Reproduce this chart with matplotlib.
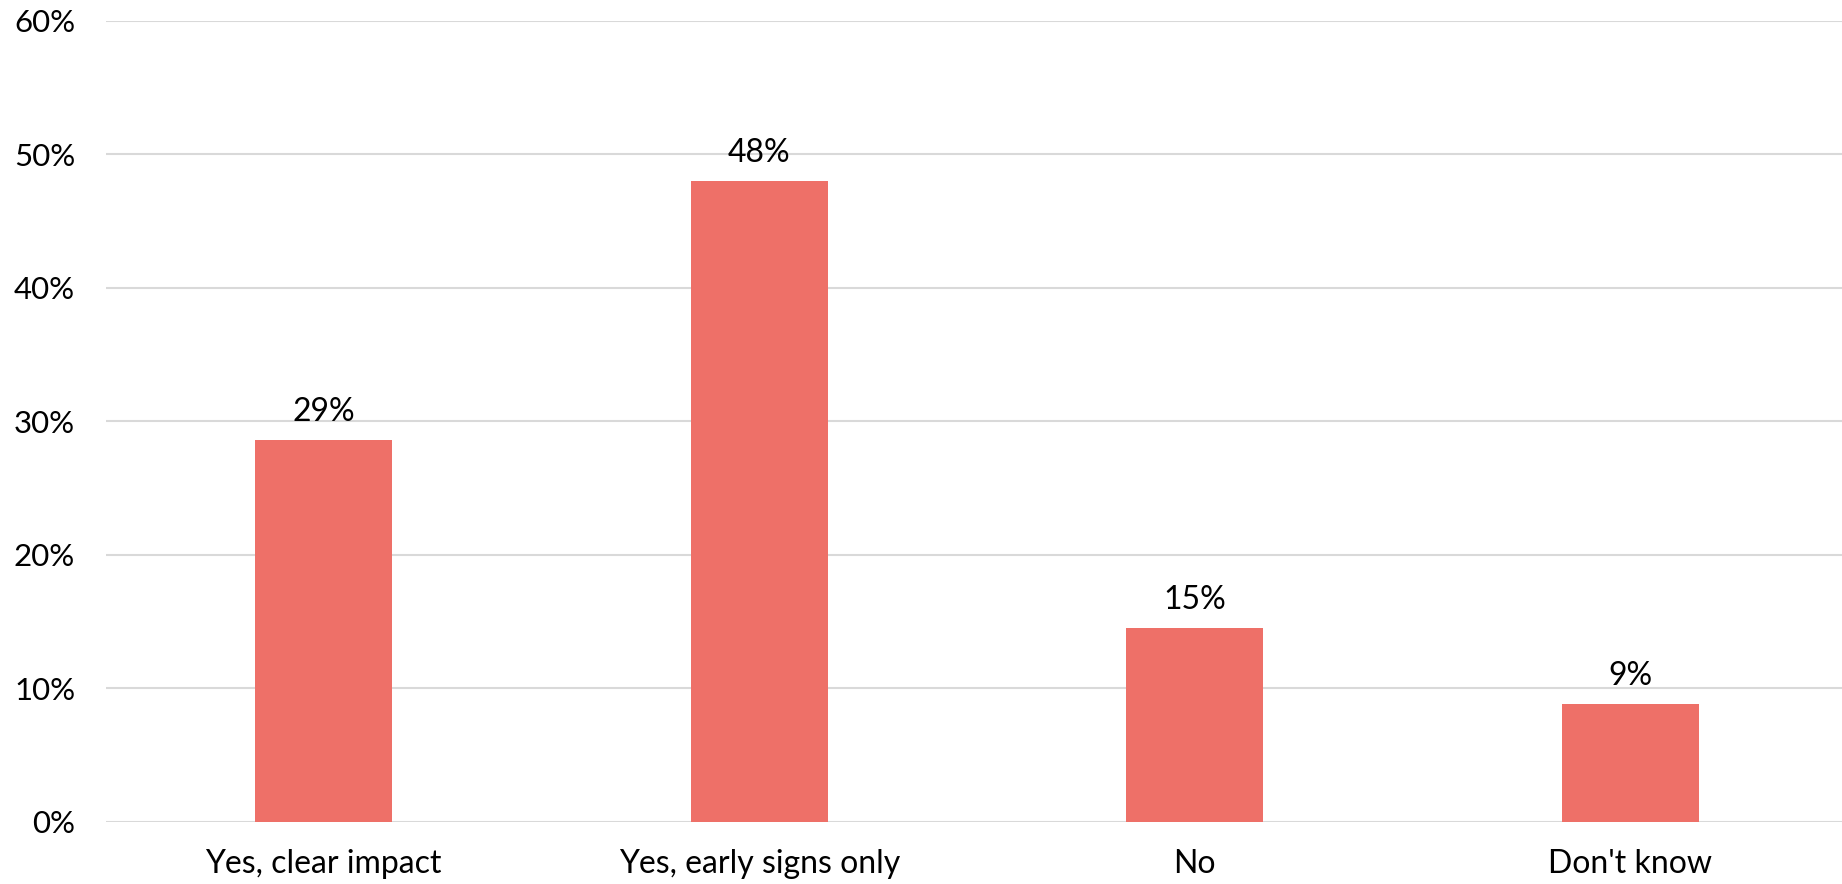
import matplotlib
matplotlib.use("Agg")
import matplotlib.pyplot as plt
from matplotlib.ticker import FuncFormatter

categories = ["Yes, clear impact", "Yes, early signs only", "No", "Don't know"]
values = [28.6, 48.0, 14.5, 8.8]
labels = ["29%", "48%", "15%", "9%"]
yticks = [0, 10, 20, 30, 40, 50, 60]

plt.rcParams['font.family'] = ['Lato', 'DejaVu Sans']

W, H = 1842, 884
fig = plt.figure(figsize=(W / 100, H / 100), dpi=100)
left, right = 105.7, 1848.3
top, bottom = 20.7, 821.7
ax = fig.add_axes([left / W, 1 - bottom / H, (right - left) / W, (bottom - top) / H])

x = list(range(len(categories)))
bars = ax.bar(x, values, width=0.3145, color="#EE7068", zorder=3)

ax.set_xlim(-0.5, len(categories) - 0.5)
ax.set_ylim(0, 60)
ax.set_yticks(yticks)
ax.yaxis.set_major_formatter(FuncFormatter(lambda v, p: f"{int(v)}%"))
ax.set_xticks(x)
ax.set_xticklabels(categories)

for s in ax.spines.values():
    s.set_visible(False)
ax.grid(axis="y", color="#D9D9D9", linewidth=1.5, zorder=0)
ax.tick_params(axis="both", length=0, colors="black")
ax.tick_params(axis="y", pad=22, labelsize=22.5)
ax.tick_params(axis="x", pad=20, labelsize=23)

for b, lab in zip(bars, labels):
    ax.annotate(lab, (b.get_x() + b.get_width() / 2, b.get_height()),
                xytext=(0, 13.7), textcoords="offset points",
                ha="center", va="baseline", fontsize=23, color="black")

fig.savefig("out.png", dpi=100)
